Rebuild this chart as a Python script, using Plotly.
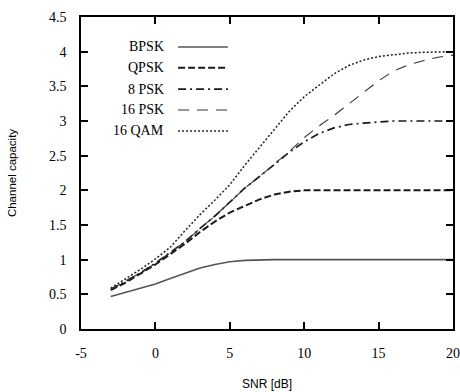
import plotly.graph_objects as go

snr = list(range(-3, 21))
bpsk  = [0.47, 0.53, 0.59, 0.65, 0.73, 0.80, 0.88, 0.93, 0.97, 0.99, 1.00, 1.00, 1.00, 1.00, 1.00, 1.00, 1.00, 1.00, 1.00, 1.00, 1.00, 1.00, 1.00, 1.00]
qpsk  = [0.56, 0.67, 0.80, 0.93, 1.08, 1.23, 1.40, 1.55, 1.68, 1.78, 1.87, 1.94, 1.98, 2.00, 2.00, 2.00, 2.00, 2.00, 2.00, 2.00, 2.00, 2.00, 2.00, 2.00]
psk8  = [0.57, 0.69, 0.81, 0.95, 1.10, 1.26, 1.45, 1.63, 1.83, 2.03, 2.20, 2.38, 2.55, 2.70, 2.82, 2.90, 2.95, 2.97, 2.99, 3.00, 3.00, 3.00, 3.00, 3.00]
psk16 = [0.57, 0.69, 0.81, 0.95, 1.10, 1.26, 1.45, 1.63, 1.83, 2.03, 2.20, 2.38, 2.56, 2.76, 2.93, 3.08, 3.25, 3.42, 3.58, 3.72, 3.81, 3.87, 3.92, 3.95]
qam16 = [0.59, 0.72, 0.86, 1.01, 1.18, 1.42, 1.65, 1.86, 2.08, 2.36, 2.62, 2.88, 3.14, 3.35, 3.52, 3.68, 3.80, 3.88, 3.93, 3.96, 3.98, 3.99, 4.00, 4.00]

names = ["BPSK", "QPSK", "8 PSK", "16 PSK", "16 QAM"]
series = [bpsk, qpsk, psk8, psk16, qam16]
styles = [
    dict(color="#555555", width=1.6, dash="solid"),
    dict(color="#1a1a1a", width=2.0, dash="7px,3px"),
    dict(color="#1a1a1a", width=1.7, dash="8px,4px,2px,4px"),
    dict(color="#333333", width=1.1, dash="11px,8px"),
    dict(color="#222222", width=1.5, dash="2px,2px"),
]

xticks = [-5, 0, 5, 10, 15, 20]
xticktext = ["-5", "0", "5", "10", "15", "20"]
yticks = [0, 0.5, 1, 1.5, 2, 2.5, 3, 3.5, 4, 4.5]
yticktext = ["0", "0.5", "1", "1.5", "2", "2.5", "3", "3.5", "4", "4.5"]

SERIF = "Times New Roman, Liberation Serif, DejaVu Serif, serif"
SANS = "Arial, Liberation Sans, sans-serif"

fig = go.Figure()
for name, ys, st in zip(names, series, styles):
    fig.add_trace(go.Scatter(x=snr, y=ys, mode="lines", name=name, line=st,
                             showlegend=False))

# manual legend (text on the left, sample line on the right)
leg_y = [0.904, 0.837, 0.769, 0.702, 0.635]
for name, st, yy in zip(names, styles, leg_y):
    fig.add_annotation(x=0.228, y=yy, xref="paper", yref="paper", text=name,
                       showarrow=False, xanchor="right", yanchor="middle",
                       font=dict(family=SERIF, size=14, color="black"))
    fig.add_shape(type="line", xref="paper", yref="paper", x0=0.261, x1=0.395,
                  y0=yy, y1=yy, line=st)

axis_common = dict(showline=True, linecolor="black", linewidth=1.5, mirror="ticks",
                   ticks="inside", ticklen=7, tickwidth=1.5, tickcolor="black",
                   showgrid=False, zeroline=False, automargin=False,
                   tickfont=dict(family=SERIF, size=14, color="black"))

fig.update_xaxes(range=[-5, 20], tickvals=xticks, ticktext=xticktext,
                 ticklabelstandoff=10,
                 title=dict(text="SNR [dB]", standoff=20,
                            font=dict(family=SANS, size=12, color="black")),
                 **axis_common)
fig.update_yaxes(range=[0, 4.5], tickvals=yticks, ticktext=yticktext,
                 ticklabelstandoff=10,
                 title=dict(text="Channel capacity", standoff=30,
                            font=dict(family=SANS, size=11.5, color="black")),
                 **axis_common)

fig.update_layout(width=460, height=392, margin=dict(l=81, r=7, t=17, b=63),
                  plot_bgcolor="white", paper_bgcolor="white", showlegend=False)

fig.write_html("out.html")
